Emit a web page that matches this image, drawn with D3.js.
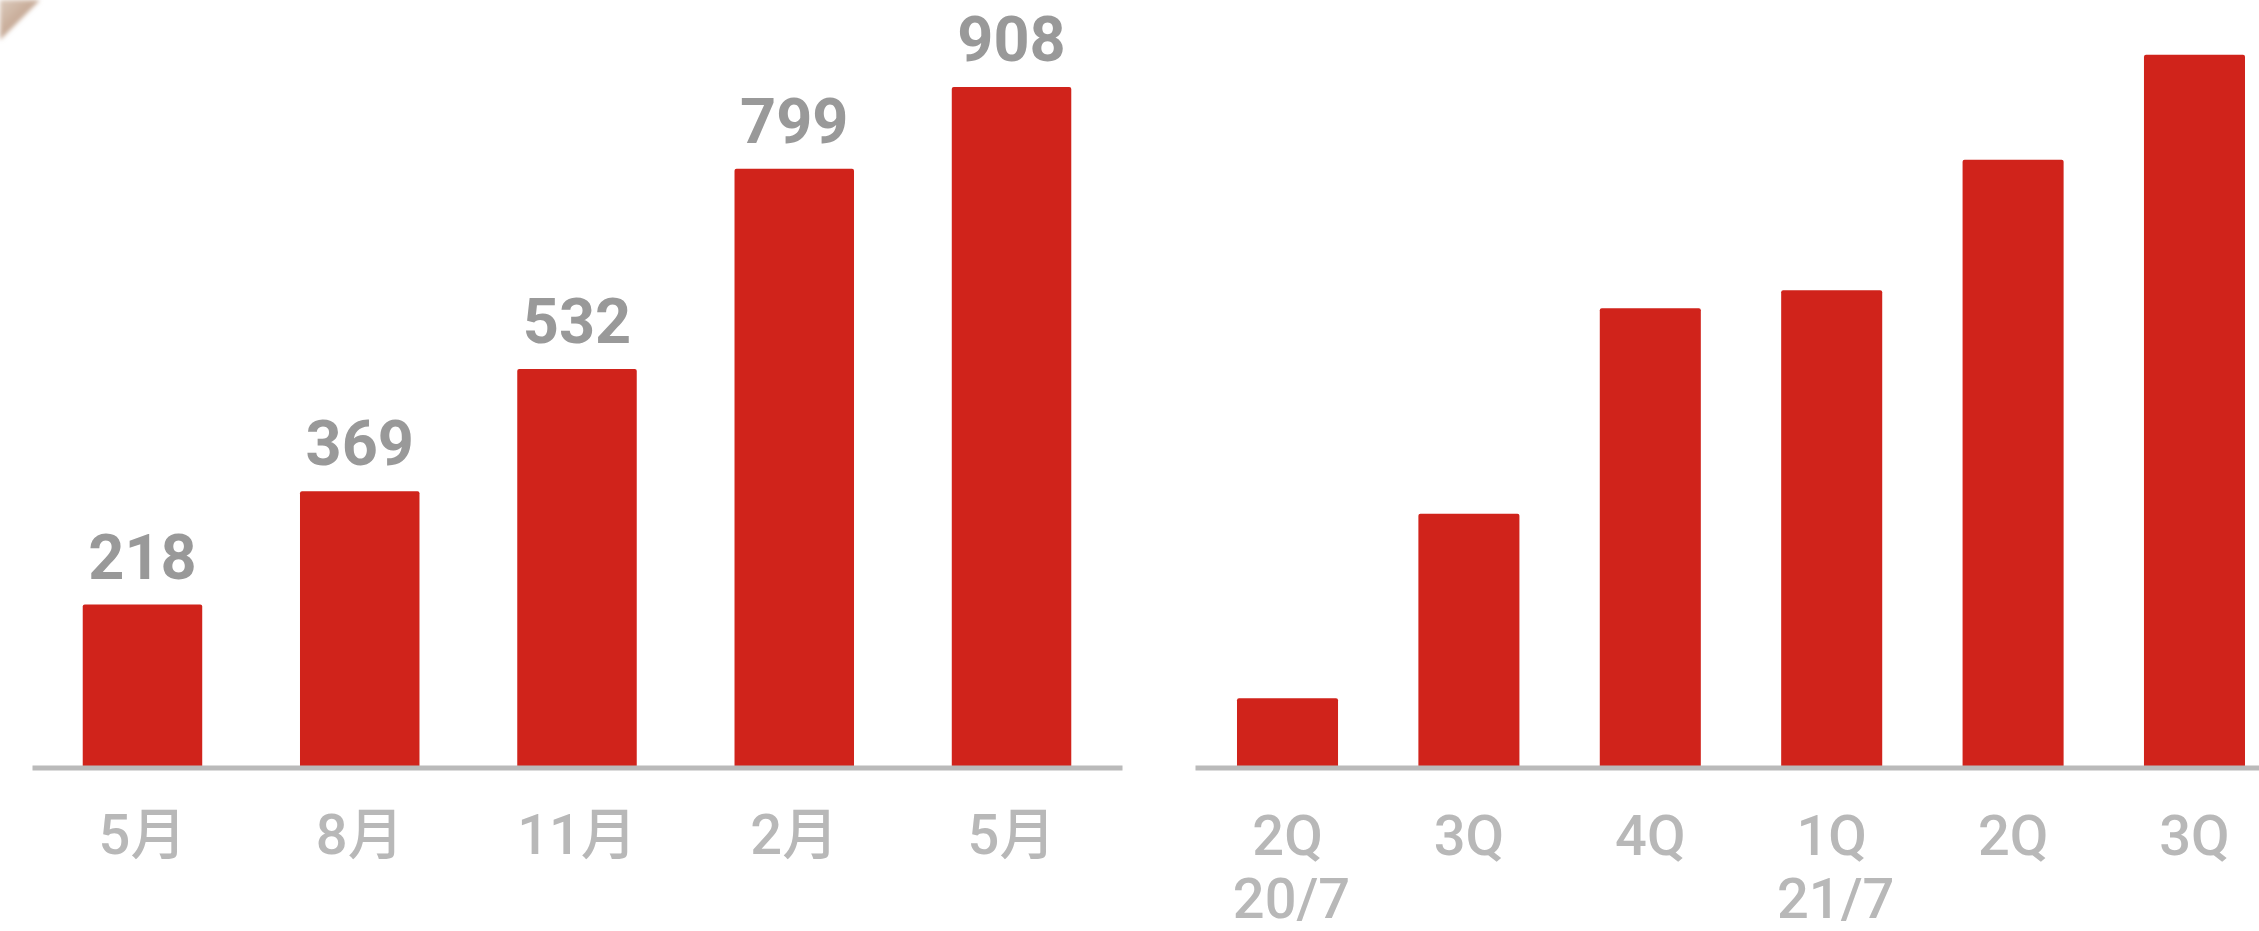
<!DOCTYPE html>
<html>
<head>
<meta charset="utf-8">
<script src="https://cdn.jsdelivr.net/npm/d3@7"></script>
<style>
  html, body { margin: 0; padding: 0; background: #ffffff; overflow: hidden; }
  svg { display: block; }
</style>
</head>
<body>
<svg id="chart" width="2259" height="931"></svg>
<script>
// Monthly totals (left panel)
const monthLabels = ["5月", "8月", "11月", "2月", "5月"];
const monthValues = [218, 369, 532, 799, 908];

// Quarterly totals (right panel)
const quarterLabels = ["2Q", "3Q", "4Q", "1Q", "2Q", "3Q"];
const quarterYears = ["20/7", "", "", "21/7", "", ""];
const quarterValues = [93, 339, 613, 637, 811, 951];

const W = 2259, H = 931;
const BAR = "#d0231b";
const AXIS = "#bababa";
const TICK_TEXT = "#b8b8b8";
const VALUE_TEXT = "#999999";
const FONT = "Roboto, 'Noto Sans CJK JP', sans-serif";

const svg = d3.select("#chart");
svg.append("rect").attr("width", W).attr("height", H).attr("fill", "#ffffff");

// shared vertical scale: baseline at 768px
const y = d3.scaleLinear().domain([0, 1024]).range([768, 0]);
const axisY = 767.5;

// corner shading
const defs = svg.append("defs");
const grad = defs.append("linearGradient").attr("id", "corner")
  .attr("x1", "0").attr("y1", "0").attr("x2", "1").attr("y2", "1");
grad.append("stop").attr("offset", "0").attr("stop-color", "#dccbbd");
grad.append("stop").attr("offset", "0.5").attr("stop-color", "#c6a995");
grad.append("stop").attr("offset", "1").attr("stop-color", "#eee5de");
defs.append("filter").attr("id", "soft").append("feGaussianBlur").attr("stdDeviation", 2);
svg.append("path")
  .attr("d", "M0,0 L40,0 L0,40 Z")
  .attr("fill", "url(#corner)")
  .attr("filter", "url(#soft)");

function panel(values, range, padIn, padOut) {
  const x = d3.scaleBand()
    .domain(d3.range(values.length))
    .range(range)
    .paddingInner(padIn)
    .paddingOuter(padOut);
  const g = svg.append("g");
  g.selectAll("rect.bar")
    .data(values)
    .join("rect")
    .attr("class", "bar")
    .attr("x", (d, i) => x(i))
    .attr("width", x.bandwidth())
    .attr("y", d => y(d))
    .attr("height", d => y(0) - y(d))
    .attr("rx", 2)
    .attr("fill", BAR);
  return { x, g };
}

// Left panel
const left = panel(monthValues, [32, 1122], 0.45, 0.2335);
const leftAxis = left.g.append("g")
  .attr("transform", `translate(0,${axisY})`)
  .call(d3.axisBottom(left.x).tickSize(0).tickFormat(i => monthLabels[i]));
leftAxis.select(".domain").attr("stroke", AXIS).attr("stroke-width", 5);
leftAxis.selectAll(".tick text")
  .attr("y", 0).attr("dy", 0)
  .attr("transform", "translate(0,86)")
  .attr("fill", TICK_TEXT)
  .style("font-family", FONT)
  .style("font-weight", "500")
  .style("font-size", "56px");

left.g.selectAll("text.value")
  .data(monthValues)
  .join("text")
  .attr("class", "value")
  .attr("x", (d, i) => left.x(i) + left.x.bandwidth() / 2)
  .attr("y", d => y(d) - 26)
  .attr("text-anchor", "middle")
  .attr("fill", VALUE_TEXT)
  .style("font-family", FONT)
  .style("font-weight", "bold")
  .style("font-size", "63px")
  .text(d => d);

// Right panel
const right = panel(quarterValues, [1195, 2287], 0.443, 0.2315);
const rightAxis = right.g.append("g")
  .attr("transform", `translate(0,${axisY})`)
  .call(d3.axisBottom(right.x).tickSize(0).tickFormat(i => quarterLabels[i]));
rightAxis.select(".domain").attr("stroke", AXIS).attr("stroke-width", 5);
rightAxis.selectAll(".tick text")
  .attr("y", 0).attr("dy", 0)
  .attr("fill", TICK_TEXT)
  .style("font-family", FONT)
  .style("font-weight", "500")
  .style("font-size", "56px")
  .text(null)
  .each(function (i) {
    const t = d3.select(this);
    t.append("tspan").attr("x", 0).attr("y", 87).text(quarterLabels[i]);
    if (quarterYears[i]) {
      t.append("tspan").attr("x", 4).attr("y", 150).text(quarterYears[i]);
    }
  });
</script>
</body>
</html>
